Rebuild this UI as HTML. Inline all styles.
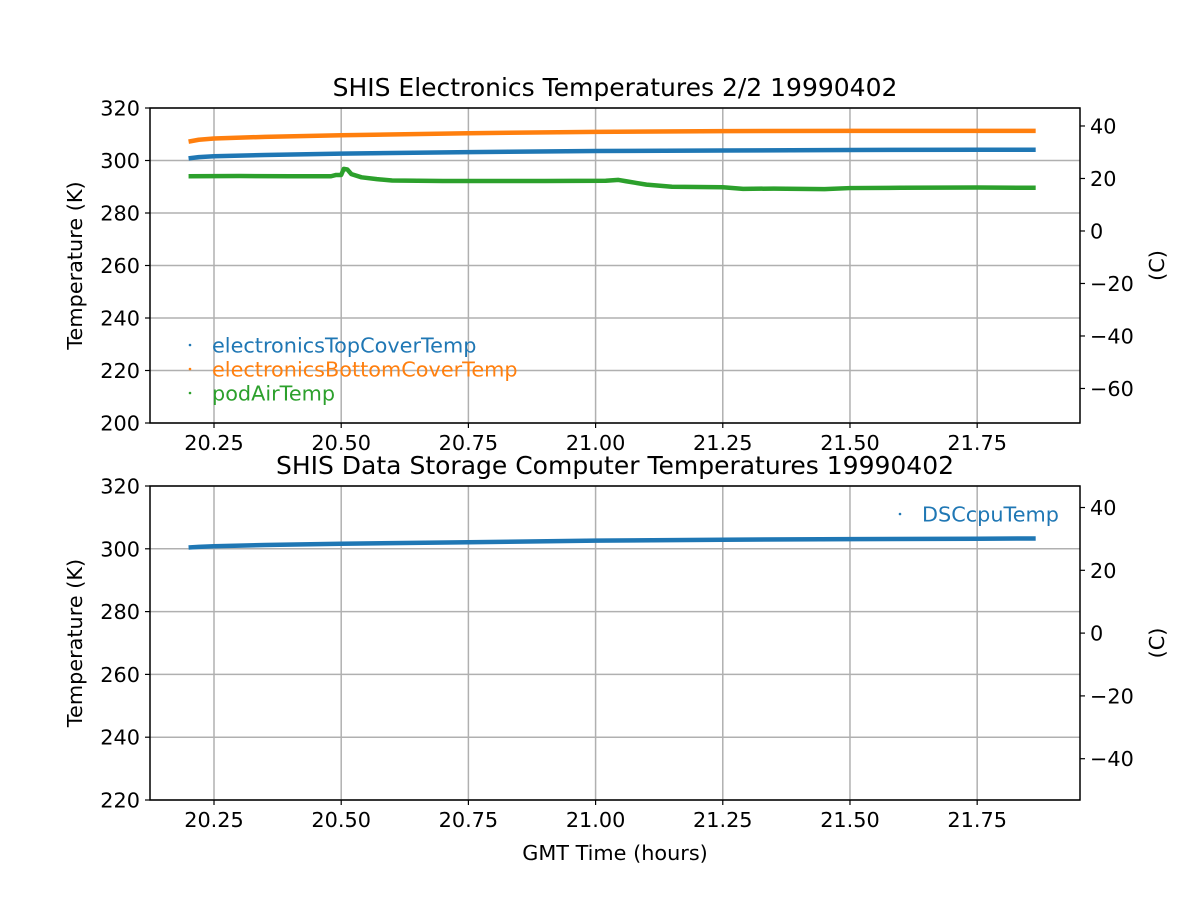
<!DOCTYPE html>
<html><head><meta charset="utf-8"><style>
html,body{margin:0;padding:0;background:#fff;}
svg{display:block;font-family:"DejaVu Sans","Liberation Sans",sans-serif;}
</style></head><body>
<svg id="chart" width="1200" height="900" viewBox="0 0 1200 900" xmlns="http://www.w3.org/2000/svg"></svg>
<script>
// ---- data ----
const xTicks = [20.25, 20.50, 20.75, 21.00, 21.25, 21.50, 21.75];
const topYTicks = [200, 220, 240, 260, 280, 300, 320];
const topCTicks = [-60, -40, -20, 0, 20, 40];
const botYTicks = [220, 240, 260, 280, 300, 320];
const botCTicks = [-40, -20, 0, 20, 40];

const topCoverT = [20.20, 20.22, 20.25, 20.35, 20.5, 20.75, 21.0, 21.25, 21.5, 21.75, 21.865];
const topCoverV = [300.8, 301.3, 301.6, 302.1, 302.6, 303.2, 303.6, 303.8, 304.0, 304.1, 304.1];
const bottomCoverT = [20.20, 20.22, 20.25, 20.35, 20.5, 20.75, 21.0, 21.25, 21.5, 21.75, 21.865];
const bottomCoverV = [307.2, 307.9, 308.4, 309.0, 309.6, 310.4, 310.9, 311.2, 311.3, 311.3, 311.3];
const podAirT = [20.20, 20.30, 20.40, 20.48, 20.49, 20.50, 20.505, 20.512, 20.52, 20.54, 20.57, 20.60, 20.70, 20.90, 21.02, 21.045, 21.06, 21.10, 21.15, 21.25, 21.29, 21.35, 21.45, 21.50, 21.60, 21.75, 21.865];
const podAirV = [294.0, 294.1, 294.0, 294.0, 294.5, 294.5, 296.8, 296.6, 294.8, 293.6, 292.9, 292.4, 292.2, 292.2, 292.3, 292.6, 292.1, 290.8, 290.0, 289.8, 289.2, 289.3, 289.1, 289.5, 289.6, 289.7, 289.6];
const dscT = [20.20, 20.22, 20.25, 20.35, 20.5, 20.75, 21.0, 21.25, 21.5, 21.75, 21.865];
const dscV = [300.4, 300.6, 300.8, 301.2, 301.6, 302.1, 302.6, 302.9, 303.1, 303.2, 303.3];

// ---- layout ----
const svg = document.getElementById('chart');
const NS = 'http://www.w3.org/2000/svg';
const X0 = 150, X1 = 1080, XMIN = 20.1242, XMAX = 21.9521;
const FS = 20.8;
const xs = v => X0 + (v - XMIN) / (XMAX - XMIN) * (X1 - X0);
function mk(tag, attrs, parent) {
  const e = document.createElementNS(NS, tag);
  for (const k in attrs) e.setAttribute(k, attrs[k]);
  (parent || svg).appendChild(e);
  return e;
}
function txt(s, attrs, parent) { const t = mk('text', attrs, parent); t.textContent = s; return t; }

function panel(name, Y0, Y1, ymin, ymax, yTicks, cTicks, title, series, legend, legendPos, showXLabel) {
  const g = mk('g', {});
  
  
  const ys = v => Y1 - (v - ymin) / (ymax - ymin) * (Y1 - Y0);
  xTicks.forEach(t => mk('line', {x1: xs(t), x2: xs(t), y1: Y0, y2: Y1, stroke: '#b0b0b0', 'stroke-width': 1.5}, g));
  yTicks.forEach(t => mk('line', {x1: X0, x2: X1, y1: ys(t), y2: ys(t), stroke: '#b0b0b0', 'stroke-width': 1.5}, g));
  series.forEach(s => {
    const pl = mk('polyline', {points: s.t.map((t, i) => xs(t) + ',' + ys(s.v[i])).join(' '), fill: 'none', stroke: s.c, 'stroke-width': 4.5, 'stroke-linejoin': 'round'}, g);
    
    
  });
  mk('rect', {x: X0, y: Y0, width: X1 - X0, height: Y1 - Y0, fill: 'none', stroke: '#000', 'stroke-width': 1.5}, g);
  xTicks.forEach(t => {
    mk('line', {x1: xs(t), x2: xs(t), y1: Y1, y2: Y1 + 5, stroke: '#000', 'stroke-width': 1.2}, g);
    txt(t.toFixed(2), {x: xs(t), y: Y1 + 27, 'text-anchor': 'middle', 'font-size': FS}, g);
  });
  yTicks.forEach(t => {
    mk('line', {x1: X0 - 5, x2: X0, y1: ys(t), y2: ys(t), stroke: '#000', 'stroke-width': 1.2}, g);
    txt(String(t), {x: X0 - 10, y: ys(t) + 7.5, 'text-anchor': 'end', 'font-size': FS}, g);
  });
  cTicks.forEach(c => {
    const y = ys(c + 273.15);
    mk('line', {x1: X1, x2: X1 + 5, y1: y, y2: y, stroke: '#000', 'stroke-width': 1.2}, g);
    txt(String(c).replace('-', '\u2212'), {x: X1 + 10, y: y + 7.5, 'text-anchor': 'start', 'font-size': FS}, g);
  });
  const my = (Y0 + Y1) / 2;
  txt('Temperature (K)', {x: 82, y: my, 'text-anchor': 'middle', 'font-size': FS, transform: `rotate(-90 82 ${my})`}, g);
  txt('(C)', {x: 1164, y: my, 'text-anchor': 'middle', 'font-size': FS, transform: `rotate(-90 1164 ${my})`}, g);
  txt(title, {x: (X0 + X1) / 2, y: Y0 - 12, 'text-anchor': 'middle', 'font-size': 25}, g);
  legend.forEach((l, i) => {
    const y = legendPos.y + i * 24;
    mk('circle', {cx: legendPos.x, cy: y, r: 1.3, fill: l.c}, g);
    const t = txt(l.n, {x: legendPos.x + 22, y: y + 7.5, 'font-size': FS, fill: l.c}, g);
    
    
  });
  if (showXLabel) txt('GMT Time (hours)', {x: (X0 + X1) / 2, y: Y1 + 60, 'text-anchor': 'middle', 'font-size': FS}, g);
}

panel('electronics-panel', 108, 423, 200, 320, topYTicks, topCTicks, 'SHIS Electronics Temperatures 2/2 19990402',
  [{t: bottomCoverT, v: bottomCoverV, c: '#ff7f0e', n: 'bottom-cover'},
   {t: topCoverT, v: topCoverV, c: '#1f77b4', n: 'top-cover'},
   {t: podAirT, v: podAirV, c: '#2ca02c', n: 'pod-air'}],
  [{n: 'electronicsTopCoverTemp', c: '#1f77b4'}, {n: 'electronicsBottomCoverTemp', c: '#ff7f0e'}, {n: 'podAirTemp', c: '#2ca02c'}],
  {x: 190, y: 345}, false);

panel('dsc-panel', 486, 800, 220, 320, botYTicks, botCTicks, 'SHIS Data Storage Computer Temperatures 19990402',
  [{t: dscT, v: dscV, c: '#1f77b4', n: 'dsc-cpu'}],
  [{n: 'DSCcpuTemp', c: '#1f77b4'}],
  {x: 900, y: 514}, true);
</script>
</body></html>
